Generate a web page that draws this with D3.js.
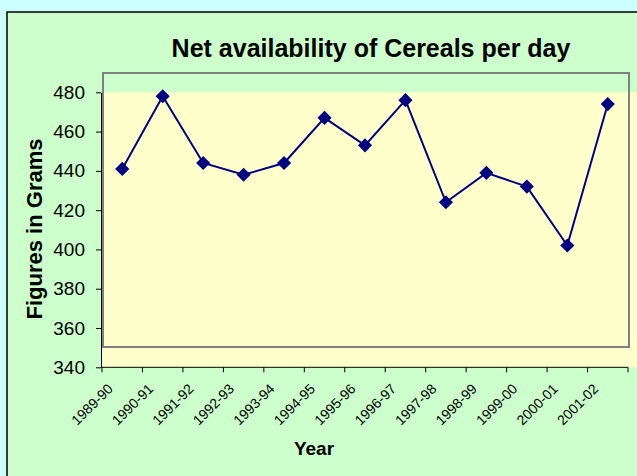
<!DOCTYPE html>
<html lang="en">
<script src='https://d3js.org/d3.v7.min.js'></script>
<body style="margin:0">
<svg width=637 height=476></svg>
<script>

    // values
    var years = ["1989-90","1990-91","1991-92","1992-93","1993-94","1994-95","1995-96",
                 "1996-97","1997-98","1998-99","1999-00","2000-01","2001-02"];
    var grams = [441, 478, 444, 438, 444, 467, 453, 476, 424, 439, 432, 402, 474];
    var yTicks = [340, 360, 380, 400, 420, 440, 460, 480];

    var svg = d3.select("svg");
    var font = "Liberation Sans, Arial, sans-serif";

    // scales
    var x = d3.scaleBand().domain(years).range([102, 628]);
    var y = d3.scaleLinear().domain([340, 480]).range([367.3, 92.3]);

    // page + chart area
    svg.append("rect").attr("width", 637).attr("height", 476).attr("fill", "#ccffff");
    svg.append("rect")
        .attr("x", 7).attr("y", 12).attr("width", 650).attr("height", 480)
        .attr("fill", "#ccffcc").attr("stroke", "black").attr("stroke-width", 1.5);

    // plot area (yellow) and the shifted grey frame
    svg.append("rect")
        .attr("x", 101).attr("y", y(480)).attr("width", 627).attr("height", y(340) - y(480))
        .attr("fill", "#ffffcc");
    svg.append("rect")
        .attr("x", 103).attr("y", 73).attr("width", 526).attr("height", 274)
        .attr("fill", "none").attr("stroke", "#808080").attr("stroke-width", 2);

    // y axis
    var gy = svg.append("g")
        .attr("transform", "translate(101,0)")
        .call(d3.axisLeft(y).tickValues(yTicks).tickSize(5).tickSizeOuter(0).tickPadding(11));
    gy.selectAll("text").attr("font-family", font).attr("font-size", 19).attr("fill", "black");
    gy.selectAll("line, path").attr("stroke", "black");

    // x axis: ticks sit between categories
    var gx = svg.append("g").attr("transform", "translate(0," + y(340) + ")");
    gx.append("line").attr("x1", 101).attr("x2", 628).attr("stroke", "black");
    gx.selectAll("line.t").data(years.concat(["end"])).enter().append("line")
        .attr("class", "t")
        .attr("x1", function (d) { return d == "end" ? x.range()[1] : x(d); })
        .attr("x2", function (d) { return d == "end" ? x.range()[1] : x(d); })
        .attr("y1", 0).attr("y2", 5).attr("stroke", "black");
    gx.selectAll("text").data(years).enter().append("text")
        .attr("transform", function (d) {
            return "translate(" + (x(d) + x.bandwidth() / 2 - 12) + ",19) rotate(-45)";
        })
        .attr("text-anchor", "end")
        .attr("dy", "0.35em")
        .attr("font-family", font).attr("font-size", 14)
        .text(function (d) { return d; });

    // line + diamond markers
    var line = d3.line()
        .x(function (d, i) { return x(years[i]) + x.bandwidth() / 2; })
        .y(function (d) { return y(d); });
    svg.append("path").datum(grams)
        .attr("d", line)
        .attr("fill", "none").attr("stroke", "#000080").attr("stroke-width", 2);
    svg.selectAll("path.m").data(grams).enter().append("path")
        .attr("class", "m")
        .attr("d", d3.symbol().type(d3.symbolSquare).size(100))
        .attr("transform", function (d, i) {
            return "translate(" + (x(years[i]) + x.bandwidth() / 2) + "," + y(d) + ") rotate(45)";
        })
        .attr("fill", "#000080");

    // titles
    svg.append("text")
        .attr("x", 371).attr("y", 57)
        .attr("text-anchor", "middle")
        .attr("font-family", font).attr("font-size", 25).attr("font-weight", "bold")
        .text("Net availability of Cereals per day");
    svg.append("text")
        .attr("x", 314).attr("y", 455)
        .attr("text-anchor", "middle")
        .attr("font-family", font).attr("font-size", 19).attr("font-weight", "bold")
        .text("Year");
    svg.append("text")
        .attr("transform", "translate(42,229) rotate(-90)")
        .attr("text-anchor", "middle")
        .attr("font-family", font).attr("font-size", 22).attr("font-weight", "bold")
        .text("Figures in Grams");

</script>
</body>
</html>
